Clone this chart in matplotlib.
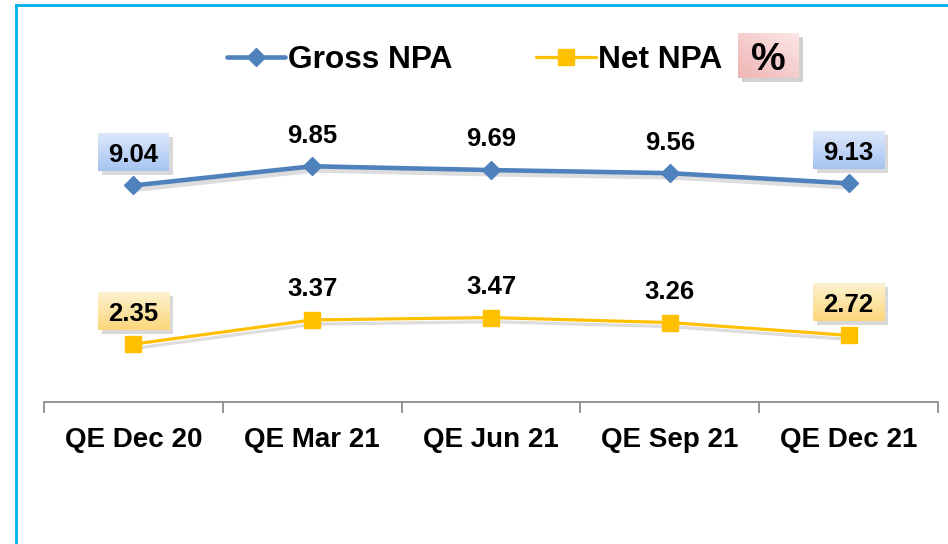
import matplotlib
matplotlib.use("Agg")
import matplotlib.pyplot as plt
import matplotlib.patheffects as pe
from matplotlib.patches import Rectangle
from matplotlib.lines import Line2D
import numpy as np

categories = ["QE Dec 20", "QE Mar 21", "QE Jun 21", "QE Sep 21", "QE Dec 21"]
gross_npa = [9.04, 9.85, 9.69, 9.56, 9.13]
net_npa = [2.35, 3.37, 3.47, 3.26, 2.72]
boxed_points = [0, 4]

BLUE = "#4f81bd"
YELLOW = "#ffc000"
FONT = "Liberation Sans"

W, H = 948, 544
fig = plt.figure(figsize=(W / 100, H / 100), dpi=100)
fig.patch.set_facecolor("white")

YMIN, YMAX = -0.09, 13.91

# axes placement (pixels)
ax_left, ax_right, ax_bottom, ax_top = 44, 938, 402, 70
ax = fig.add_axes([ax_left / W, 1 - ax_bottom / H, (ax_right - ax_left) / W, (ax_bottom - ax_top) / H])
ax.set_xlim(-0.5, len(categories) - 0.5)
ax.set_ylim(YMIN, YMAX)
ax.set_facecolor("none")

x = np.arange(len(categories))
shadow = [pe.SimpleLineShadow(offset=(1.5, -3), shadow_color="#909090", alpha=0.3), pe.Normal()]
ax.plot(x, gross_npa, color=BLUE, lw=3.3, solid_capstyle="round", path_effects=shadow, zorder=3)
ax.plot(x, gross_npa, ls="none", marker="D", ms=9.5, mfc=BLUE, mec=BLUE, zorder=3.5)
ax.plot(x, net_npa, color=YELLOW, lw=2.3, solid_capstyle="round", path_effects=shadow, zorder=3)
ax.plot(x, net_npa, ls="none", marker="s", ms=11, mfc=YELLOW, mec=YELLOW, zorder=3.5)

for s in ["top", "right", "left"]:
    ax.spines[s].set_visible(False)
ax.spines["bottom"].set_color("#8c8c8c")
ax.spines["bottom"].set_linewidth(1.3)
ax.set_yticks([])
ax.set_xticks(np.arange(len(categories) + 1) - 0.5, minor=False)
ax.set_xticklabels([])
ax.tick_params(axis="x", which="major", length=8, width=1.3, color="#8c8c8c")
ax.set_xticks(x, minor=True)
ax.set_xticklabels(categories, minor=True, fontfamily=FONT, fontweight="bold", fontsize=20)
ax.tick_params(axis="x", which="minor", length=0, pad=18)

# data labels
texts = []
for series, top_c, bot_c in [(gross_npa, "#dde8fb", "#a6c3f1"), (net_npa, "#fdf2d0", "#fbd67a")]:
    for i, v in enumerate(series):
        t = ax.annotate(f"{v:.2f}", (i, v), xytext=(0, 17), textcoords="offset points",
                        ha="center", va="baseline", fontfamily=FONT, fontweight="bold",
                        fontsize=18.5, color="black", zorder=6)
        if i in boxed_points:
            texts.append((t, i, v, top_c, bot_c))

fig.canvas.draw()
inv = ax.transData.inverted()
grad = np.linspace(0, 1, 64).reshape(-1, 1)
for t, i, v, top_c, bot_c in texts:
    bb = t.get_window_extent()
    px, py = ax.transData.transform((i, v))
    x0, x1 = bb.x0 - 10.5, bb.x1 + 10.5
    y0, y1 = py + 14, py + 52
    (dx0, dy0) = inv.transform((x0, y0))
    (dx1, dy1) = inv.transform((x1, y1))
    (sx, sy) = inv.transform((x0 + 4, y0 - 4))
    ax.add_patch(Rectangle((sx, sy), dx1 - dx0, dy1 - dy0, facecolor="#000000", alpha=0.15,
                           edgecolor="none", zorder=4))
    c_top = np.array(matplotlib.colors.to_rgb(top_c))
    c_bot = np.array(matplotlib.colors.to_rgb(bot_c))
    img = c_top[None, None, :] * (1 - grad[:, :, None]) + c_bot[None, None, :] * grad[:, :, None]
    ax.imshow(img, extent=(dx0, dx1, dy0, dy1), origin="upper", aspect="auto", zorder=5,
              interpolation="bilinear")
ax.set_xlim(-0.5, len(categories) - 0.5)
ax.set_ylim(YMIN, YMAX)

# legend drawn in figure pixels
def fx(px):
    return px / W

def fy(py):
    return 1 - py / H

ly = 57
fig.add_artist(Line2D([fx(227), fx(285)], [fy(ly), fy(ly)], color=BLUE, lw=3.3,
                      solid_capstyle="round"))
fig.add_artist(Line2D([fx(256)], [fy(ly)], color=BLUE, marker="D", ms=9.5, lw=0))
fig.text(fx(288), fy(ly), "Gross NPA", fontfamily=FONT, fontweight="bold", fontsize=22.8,
         va="center_baseline", ha="left")
fig.add_artist(Line2D([fx(536), fx(596)], [fy(ly), fy(ly)], color=YELLOW, lw=2.3,
                      solid_capstyle="round"))
fig.add_artist(Line2D([fx(566)], [fy(ly)], color=YELLOW, marker="s", ms=11, lw=0))
fig.text(fx(598), fy(ly), "Net NPA", fontfamily=FONT, fontweight="bold", fontsize=22.8,
         va="center_baseline", ha="left")

# percent box with gradient
bx0, bx1, by0, by1 = 738, 799, 33, 78
fig.add_artist(Rectangle((fx(bx0 + 4), fy(by1 + 4)), fx(bx1) - fx(bx0), fy(by0) - fy(by1),
                         facecolor="black", alpha=0.18, edgecolor="none", zorder=-1))
pax = fig.add_axes([fx(bx0), fy(by1), fx(bx1) - fx(bx0), fy(by0) - fy(by1)], zorder=2)
gx, gy = np.meshgrid(np.linspace(0, 1, 64), np.linspace(0, 1, 64))
gt = np.clip((gx + gy) / 2, 0, 1)
c_a = np.array(matplotlib.colors.to_rgb("#f0b4b4"))
c_b = np.array(matplotlib.colors.to_rgb("#fbe6e6"))
pimg = c_a[None, None, :] * (1 - gt[:, :, None]) + c_b[None, None, :] * gt[:, :, None]
pax.imshow(pimg, origin="lower", aspect="auto", extent=(0, 1, 0, 1))
pax.set_axis_off()
pax.text(0.5, 0.5, "%", transform=pax.transAxes, ha="center", va="center_baseline",
         fontfamily=FONT, fontweight="bold", fontsize=28)

# light blue frame (top and left)
fig.add_artist(Line2D([fx(16), fx(948)], [fy(5), fy(5)], color="#00b0f0", lw=2))
fig.add_artist(Line2D([fx(16), fx(16)], [fy(5), fy(544)], color="#00b0f0", lw=2))

fig.savefig("out.png", dpi=100, facecolor="white")
